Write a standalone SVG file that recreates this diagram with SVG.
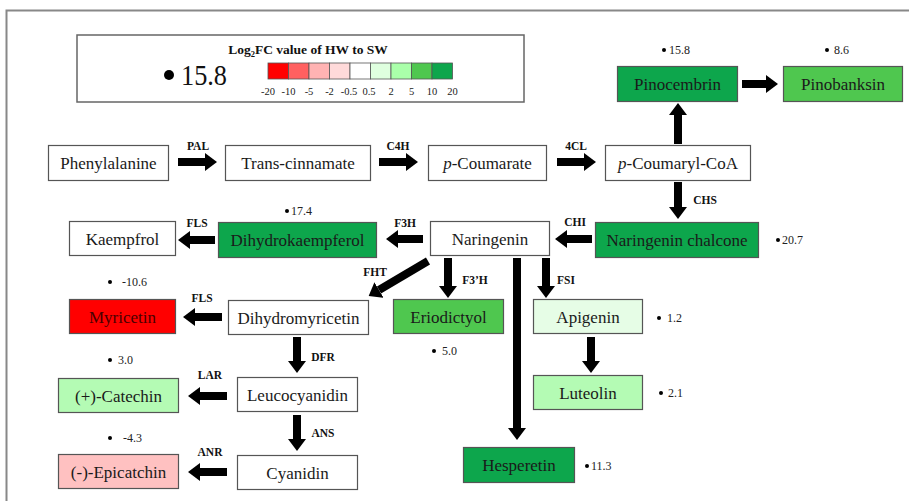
<svg xmlns="http://www.w3.org/2000/svg" width="909" height="501" viewBox="0 0 909 501">
<defs>
<style>
.box{stroke:#555;stroke-width:1.2}
.t{font-family:"Liberation Serif","Times New Roman",serif;font-size:17px;text-anchor:middle;fill:#1a1a1a}
.lab{font-family:"Liberation Serif","Times New Roman",serif;font-size:11.5px;font-weight:bold;text-anchor:middle;fill:#111}
.v{font-family:"Liberation Serif","Times New Roman",serif;font-size:12px;fill:#222}
.sc{font-family:"Liberation Serif","Times New Roman",serif;font-size:10.5px;text-anchor:middle;fill:#222}
.arr{stroke:#000;stroke-width:8;fill:none;marker-end:url(#ah)}
.dg{fill:#0DA64C}.lg{fill:#4FC74F}.pg{fill:#B4FBB4}.vg{fill:#E6FDE6}.w{fill:#fff}
</style>
<marker id="ah" markerUnits="userSpaceOnUse" markerWidth="13" markerHeight="18" refX="0" refY="9" orient="auto">
<path d="M0,0 L12,9 L0,18 Z" fill="#000"/>
</marker>
</defs>
<rect x="0" y="0" width="909" height="501" fill="#fff"/>
<rect x="6.5" y="10.5" width="920" height="510" fill="none" stroke="#888" stroke-width="2"/>

<g id="legend">
<rect x="77" y="35" width="447" height="67" fill="#fff" stroke="#666" stroke-width="1.5"/>
<text x="308" y="54" font-family="Liberation Serif,serif" font-size="13.5" font-weight="bold" text-anchor="middle" fill="#111">Log<tspan font-size="8.5" dy="3">2</tspan><tspan dy="-3">FC value of HW to SW</tspan></text>
<circle cx="169" cy="75" r="5" fill="#000"/>
<text x="181" y="85" font-family="Liberation Serif,serif" font-size="29" textLength="46" lengthAdjust="spacingAndGlyphs" fill="#111">15.8</text>
<g stroke="#555" stroke-width="0.8">
<rect x="268" y="63" width="20.5" height="16" fill="#FF0000"/>
<rect x="288.5" y="63" width="20.5" height="16" fill="#FF6060"/>
<rect x="309" y="63" width="20.5" height="16" fill="#FFB3B3"/>
<rect x="329.5" y="63" width="20.5" height="16" fill="#FFDADA"/>
<rect x="350" y="63" width="20.5" height="16" fill="#FFFFFF"/>
<rect x="370.5" y="63" width="20.5" height="16" fill="#DFFFDF"/>
<rect x="391" y="63" width="20.5" height="16" fill="#AAFFAA"/>
<rect x="411.5" y="63" width="20.5" height="16" fill="#4FC74F"/>
<rect x="432" y="63" width="20.5" height="16" fill="#0DA64C"/>
</g>
<text class="sc" x="268" y="95">-20</text>
<text class="sc" x="288.5" y="95">-10</text>
<text class="sc" x="309" y="95">-5</text>
<text class="sc" x="329.5" y="95">-2</text>
<text class="sc" x="349" y="95">-0.5</text>
<text class="sc" x="369" y="95">0.5</text>
<text class="sc" x="391" y="95">2</text>
<text class="sc" x="411.5" y="95">5</text>
<text class="sc" x="432" y="95">10</text>
<text class="sc" x="452.5" y="95">20</text>
</g>

<g id="connectors">
<line class="arr" x1="178" y1="162" x2="205" y2="162"/>
<line class="arr" x1="379" y1="162" x2="406" y2="162"/>
<line class="arr" x1="557" y1="162" x2="584" y2="162"/>
<line class="arr" x1="678" y1="144" x2="678" y2="115"/>
<line class="arr" x1="742" y1="84" x2="766" y2="84"/>
<line class="arr" x1="678" y1="182" x2="678" y2="207"/>
<line class="arr" x1="592" y1="239" x2="567" y2="239"/>
<line class="arr" x1="423" y1="239" x2="398" y2="239"/>
<line class="arr" x1="215" y1="240" x2="190" y2="240"/>
<line class="arr" x1="428" y1="261" x2="379" y2="290" stroke-width="7"/>
<line class="arr" x1="448" y1="258" x2="448" y2="286"/>
<line class="arr" x1="517" y1="258" x2="517" y2="428" stroke-width="6"/>
<line class="arr" x1="546" y1="258" x2="546" y2="286"/>
<line class="arr" x1="222" y1="317" x2="195" y2="317"/>
<line class="arr" x1="591" y1="337" x2="591" y2="361"/>
<line class="arr" x1="297" y1="337" x2="297" y2="361"/>
<line class="arr" x1="227" y1="396" x2="200" y2="396"/>
<line class="arr" x1="297" y1="415" x2="297" y2="439"/>
<line class="arr" x1="227" y1="472" x2="200" y2="472"/>
<text class="lab" x="198" y="150">PAL</text>
<text class="lab" x="398" y="150">C4H</text>
<text class="lab" x="576" y="150">4CL</text>
<text class="lab" x="705" y="204">CHS</text>
<text class="lab" x="575" y="226">CHI</text>
<text class="lab" x="405" y="227">F3H</text>
<text class="lab" x="197" y="227">FLS</text>
<text class="lab" x="375" y="276">FHT</text>
<text class="lab" x="475" y="284">F3’H</text>
<text class="lab" x="566" y="284">FSI</text>
<text class="lab" x="202" y="302">FLS</text>
<text class="lab" x="323" y="361">DFR</text>
<text class="lab" x="210" y="379">LAR</text>
<text class="lab" x="323" y="437">ANS</text>
<text class="lab" x="210" y="456">ANR</text>
</g>

<g id="phenylalanine"><rect class="box w" x="48.5" y="145.5" width="120" height="35"/><text class="t" x="108.5" y="169">Phenylalanine</text></g>
<g id="trans-cinnamate"><rect class="box w" x="225.5" y="145.5" width="145" height="35"/><text class="t" x="298" y="169">Trans-cinnamate</text></g>
<g id="p-coumarate"><rect class="box w" x="428.5" y="145.5" width="118" height="35"/><text class="t" x="487.5" y="169"><tspan font-style="italic">p</tspan>-Coumarate</text></g>
<g id="p-coumaryl-coa"><rect class="box w" x="605.5" y="145.5" width="145" height="35"/><text class="t" x="678" y="169"><tspan font-style="italic">p</tspan>-Coumaryl-CoA</text></g>

<g id="pinocembrin"><rect class="box dg" x="617.5" y="66.5" width="120" height="35"/><text class="t" x="677.5" y="90">Pinocembrin</text><circle cx="664" cy="50" r="2"/><text class="v" x="669" y="54">15.8</text></g>
<g id="pinobanksin"><rect class="box lg" x="783.5" y="66.5" width="119" height="35"/><text class="t" x="843" y="90">Pinobanksin</text><circle cx="827" cy="50" r="2"/><text class="v" x="834" y="54">8.6</text></g>

<g id="naringenin-chalcone"><rect class="box dg" x="595.5" y="222.5" width="163" height="35"/><text class="t" x="677" y="246">Naringenin chalcone</text><circle cx="778" cy="240" r="2"/><text class="v" x="782" y="244">20.7</text></g>
<g id="naringenin"><rect class="box w" x="430.5" y="221.5" width="119" height="34"/><text class="t" x="490" y="245">Naringenin</text></g>
<g id="dihydrokaempferol"><rect class="box dg" x="218.5" y="222.5" width="158" height="35"/><text class="t" x="297.5" y="246">Dihydrokaempferol</text><circle cx="287" cy="211" r="2"/><text class="v" x="291" y="215">17.4</text></g>
<g id="kaempfrol"><rect class="box w" x="69.5" y="221.5" width="106" height="34"/><text class="t" x="122.5" y="245">Kaempfrol</text></g>

<g id="dihydromyricetin"><rect class="box w" x="228.5" y="300.5" width="140" height="34"/><text class="t" x="298.5" y="324">Dihydromyricetin</text></g>
<g id="myricetin"><rect class="box" fill="#FF0000" x="69.5" y="299.5" width="106" height="34"/><text class="t" x="122.5" y="323" style="fill:#4a0000">Myricetin</text><circle cx="110" cy="282" r="2"/><text class="v" x="122" y="286">-10.6</text></g>
<g id="eriodictyol"><rect class="box lg" x="393.5" y="299.5" width="110" height="34"/><text class="t" x="448.5" y="323">Eriodictyol</text><circle cx="434" cy="351" r="2"/><text class="v" x="442" y="355">5.0</text></g>
<g id="apigenin"><rect class="box vg" x="533.5" y="299.5" width="109" height="34"/><text class="t" x="588" y="323">Apigenin</text><circle cx="659" cy="318" r="2"/><text class="v" x="667" y="322">1.2</text></g>
<g id="luteolin"><rect class="box pg" x="533.5" y="375.5" width="109" height="34"/><text class="t" x="588" y="399">Luteolin</text><circle cx="661" cy="393" r="2"/><text class="v" x="668" y="397">2.1</text></g>

<g id="leucocyanidin"><rect class="box w" x="237.5" y="377.5" width="120" height="34"/><text class="t" x="297.5" y="401">Leucocyanidin</text></g>
<g id="catechin"><rect class="box pg" x="58.5" y="378.5" width="120" height="34"/><text class="t" x="118.5" y="402">(+)-Catechin</text><circle cx="110" cy="360" r="2"/><text class="v" x="118" y="364">3.0</text></g>
<g id="cyanidin"><rect class="box w" x="237.5" y="455.5" width="120" height="34"/><text class="t" x="297.5" y="479">Cyanidin</text></g>
<g id="epicatchin"><rect class="box" fill="#FFC1C1" x="58.5" y="454.5" width="120" height="34"/><text class="t" x="118.5" y="478">(-)-Epicatchin</text><circle cx="110" cy="438" r="2"/><text class="v" x="123" y="442">-4.3</text></g>
<g id="hesperetin"><rect class="box dg" x="463.5" y="447.5" width="111" height="35"/><text class="t" x="519" y="471">Hesperetin</text><circle cx="587" cy="466" r="2"/><text class="v" x="591" y="470">11.3</text></g>
</svg>
